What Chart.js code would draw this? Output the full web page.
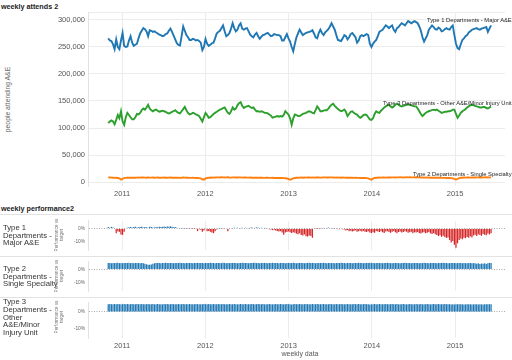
<!DOCTYPE html>
<html>
<head>
<meta charset="utf-8">
<script src="https://cdn.jsdelivr.net/npm/chart.js@4.4.1/dist/chart.umd.min.js"></script>
<style>
  body { margin: 0; width: 512px; height: 360px; position: relative; overflow: hidden; background: #fff;
         font-family: "Liberation Sans", Arial, sans-serif; color: #333; }
  canvas { position: absolute; left: 0; }
  .txt { position: absolute; white-space: nowrap; }
  .title { font-weight: bold; font-size: 7.2px; color: #222; }
  .lab { font-size: 5.8px; line-height: 6px; color: #222; }
  .rowlab { position: absolute; left: 3px; height: 41px; display: flex; align-items: center; font-size: 7.7px; line-height: 7.9px; color: #333; }
  .pvt { position: absolute; width: 41px; height: 10px; font-size: 4.7px; line-height: 5px; text-align: center; color: #777; transform: rotate(-90deg); }
  .hline { position: absolute; left: 0; width: 512px; height: 1px; background: #e2e2e2; }
</style>
</head>
<body>
<div class="txt title" style="left:1px;top:2px">weekly attends 2</div>
<div class="txt" style="left:-26px;top:96px;width:66px;text-align:center;font-size:6.8px;color:#666;transform:rotate(-90deg)">people attending A&amp;E</div>
<div class="hline" style="top:12px;left:88px;width:417px;background:#ececec"></div>
<canvas id="attends" width="512" height="200" style="top:0"></canvas>
<div class="txt lab" style="left:427px;top:17px">Type 1 Departments - Major A&amp;E</div>
<div class="txt lab" style="left:383px;top:100px">Type 3 Departments - Other A&amp;E/Minor Injury Unit</div>
<div class="txt lab" style="left:413px;top:171px">Type 2 Departments - Single Specialty</div>

<div class="txt title" style="left:1px;top:204px">weekly performance2</div>
<div class="hline" style="top:214px"></div>
<div class="hline" style="top:256px"></div>
<div class="hline" style="top:297px"></div>
<canvas id="perf1" width="512" height="41" style="top:215px"></canvas>
<canvas id="perf2" width="512" height="41" style="top:256px"></canvas>
<canvas id="perf3" width="512" height="60" style="top:297px"></canvas>
<div class="rowlab" style="top:215px"><div>Type 1<br>Departments -<br>Major A&amp;E</div></div>
<div class="rowlab" style="top:256px"><div>Type 2<br>Departments -<br>Single Specialty</div></div>
<div class="rowlab" style="top:297px"><div>Type 3<br>Departments -<br>Other<br>A&amp;E/Minor<br>Injury Unit</div></div>
<div class="pvt" style="left:38px;top:230px">Performance vs<br>target</div>
<div class="pvt" style="left:38px;top:271px">Performance vs<br>target</div>
<div class="pvt" style="left:38px;top:312px">Performance vs<br>target</div>
<div class="txt" style="left:270px;top:350px;width:60px;text-align:center;font-size:7px;color:#555">weekly data</div>

<script>
// weekly series, first week ending 31 Oct 2010
const firstWeekYear = 2010.833;
const yearTicks = [2011, 2012, 2013, 2014, 2015];
const attendTicks = [0, 50000, 100000, 150000, 200000, 250000, 300000];
const perfTicks = [-10, 0];

// attendances, thousands per week
const type1Attends = [
  266,262,261,255,246,264,250,246,262,276, 252,250,251,262,270,258,252,254,256,266,
  275,280,285,283,279,270,281,280,278,279, 277,275,273,272,270,271,274,275,280,284,
  278,271,264,257,254,253,270,288,280,272, 268,263,263,265,264,262,263,261,258,244,
  250,265,256,252,254,257,258,266,275,278, 280,285,290,279,270,272,276,284,294,285,
  279,282,290,294,284,282,284,285,279,273, 270,268,273,276,270,265,269,272,273,275,
  276,273,270,271,274,273,272,272,270,262, 262,268,274,266,260,250,242,256,268,275,
  282,277,272,274,276,277,278,279,281,275, 268,266,276,282,276,272,277,280,283,288,
  294,288,282,272,263,262,261,266,272,270, 264,268,274,276,272,268,258,262,270,272,
  270,272,274,272,256,250,256,260,263,270, 278,280,282,286,290,288,285,288,290,282,
  278,285,287,291,294,292,290,294,298,296, 294,296,298,296,294,288,280,268,260,266,
  272,282,286,290,287,283,282,286,284,279, 280,283,285,283,282,287,290,272,256,248,
  246,255,263,266,270,272,277,279,282,283, 284,285,283,282,284,285,286,287,278,284,
  290
];
const type3Attends = [
  109,112,114,112,107,115,124,118,131,112, 106,120,128,124,120,116,116,120,126,125,
  128,133,136,134,138,143,136,133,131,133, 134,132,130,131,132,131,130,128,127,128,
  130,131,133,130,128,127,131,135,139,133, 128,125,126,128,127,125,124,122,117,112,
  120,128,124,119,120,123,126,128,130,132, 134,135,137,138,133,128,126,131,138,134,
  136,142,146,148,141,137,139,140,141,139, 137,138,134,131,131,130,131,130,128,128,
  127,125,123,119,120,121,122,121,122,121, 124,131,128,125,118,106,118,125,124,122,
  122,124,126,127,128,130,131,130,128,127, 133,140,136,131,131,132,133,133,136,140,
  143,145,141,138,135,133,131,132,134,130, 122,126,130,131,128,126,125,121,119,121,
  124,125,124,120,116,115,118,126,131,129, 128,132,135,138,140,142,143,140,138,140,
  143,145,143,141,140,141,142,143,144,143, 142,141,140,140,136,131,126,122,125,128,
  130,131,132,133,134,133,134,132,130,128, 129,130,130,131,131,132,134,134,126,119,
  123,128,131,133,135,138,140,142,143,142, 141,140,139,138,138,139,139,137,136,138,
  140
];
const type2Attends = [
  8.6,8.4,8.2,8.0,7.6,7.8,7.4,6.8,4.6,6.2, 7.2,7.6,7.8,7.9,8.0,8.1,7.9,8.0,8.2,8.3,
  8.1,8.4,8.5,8.2,8.0,8.3,8.1,8.2,8.4,8.0, 8.1,8.3,8.0,7.9,8.1,8.2,8.0,7.8,8.1,8.2,
  8.0,8.1,7.9,7.8,8.0,7.7,8.0,8.2,8.1,7.9, 7.8,7.6,7.7,7.8,7.6,7.5,7.4,7.2,6.8,5.0,
  4.4,6.6,7.4,7.8,8.0,8.2,8.1,8.3,8.5,8.6, 8.4,8.8,8.6,8.3,8.5,8.7,8.4,8.2,8.5,8.6,
  8.3,8.4,8.6,8.5,8.2,8.3,8.4,8.1,8.2,8.3, 8.0,8.1,7.9,8.0,7.8,7.9,8.0,7.8,7.7,7.9,
  7.8,7.6,7.7,7.8,7.5,7.6,7.4,7.5,7.3,7.4, 7.2,7.0,6.6,5.6,4.2,5.2,6.8,7.4,7.8,8.0,
  8.1,8.2,8.0,8.3,8.2,8.4,8.3,8.1,8.4,8.2, 8.5,8.3,8.4,8.2,8.3,8.5,8.6,8.4,8.3,8.5,
  8.6,8.4,8.2,8.3,8.1,8.2,8.0,8.2,8.1,8.0, 7.9,8.0,7.8,7.9,7.7,7.8,7.6,7.7,7.5,7.4,
  7.6,7.4,7.2,6.8,5.4,4.4,6.2,7.4,7.8,8.0, 8.2,8.1,8.3,8.4,8.2,8.5,8.3,8.4,8.6,8.5,
  8.4,8.6,8.5,8.7,8.6,8.4,8.5,8.7,8.6,8.8, 8.6,8.5,8.7,8.4,8.6,8.5,8.3,8.4,8.2,8.3,
  8.1,8.2,8.0,8.1,7.9,8.0,7.8,7.9,7.7,7.8, 7.6,7.7,7.5,7.6,7.4,7.2,6.8,5.6,4.6,5.8,
  7.2,7.8,8.0,8.2,8.1,8.3,8.4,8.2,8.5,8.3, 8.4,8.6,8.5,8.3,8.4,8.6,8.5,8.7,8.4,8.6,
  8.5
];

// performance vs 95% target, percentage points
const type1Perf = [
  1.0,0.5,1.2,0.8,0.3,-3.5,-2.0,-2.5,-4.5,-4.8, -2.5,0.4,0.6,0.9,1.1,0.8,1.0,1.2,0.7,0.9,
  1.0,1.3,0.8,1.1,0.9,0.6,1.2,1.0,0.8,0.7, 1.1,0.9,1.3,1.0,1.2,1.4,1.1,1.5,1.3,1.6,
  1.2,0.9,1.0,0.6,0.3,0.2,0.1,-0.2,0.1,-0.1, 0.2,0.1,-0.2,-0.1,0.1,-0.3,-2.0,-0.5,-1.0,-2.5,
  -1.5,-0.3,-2.0,-1.8,-2.5,-3.0,-3.5,-2.0,-0.8,-0.3, 0.2,0.1,-0.2,0.3,-0.4,-2.0,0.3,0.4,0.2,0.5,
  0.3,0.6,0.4,0.2,0.5,0.3,0.6,0.4,0.2,0.5, 0.7,0.4,0.6,0.8,0.5,0.3,0.6,0.4,0.2,0.1,
  -0.4,-0.6,-0.8,-1.2,-1.0,-1.5,-1.8,-2.2,-2.0,-3.0, -4.6,-3.0,-2.6,-2.2,-2.8,-3.4,-2.8,-3.2,-3.8,-4.2,
  -3.6,-4.8,-5.2,-4.4,-5.8,-6.0,-5.2,-5.6,-6.9,-0.4, -0.2,-0.1,-0.3,0.1,-0.2,0.2,0.3,0.2,0.8,0.3,
  0.1,-0.2,-0.4,-0.3,-0.6,-0.5,-0.4,-0.6,-0.8,-1.5, -1.2,-2.0,-1.6,-2.2,-1.8,-1.4,-2.5,-2.0,-1.6,-2.2,
  -1.8,-2.4,-2.7,-2.0,-3.0,-3.4,-2.8,-3.2,-1.9,-2.3, -2.6,-2.0,-2.8,-3.4,-2.2,-2.0,-2.6,-3.2,-2.4,-1.8,
  -2.8,-3.5,-2.6,-2.2,-3.0,-2.6,-2.0,-2.4,-3.2,-2.8, -2.4,-3.6,-2.8,-3.0,-2.6,-3.4,-3.8,-3.0,-2.8,-3.6,
  -3.2,-2.6,-3.6,-4.0,-3.4,-4.2,-4.8,-5.6,-5.0,-6.2, -5.4,-6.4,-7.0,-6.6,-8.5,-10.4,-9.2,-12.0,-14.3,-11.0,
  -8.6,-7.4,-8.0,-6.8,-7.2,-6.4,-6.8,-5.8,-6.6,-5.2, -4.6,-5.6,-4.2,-4.8,-5.4,-4.0,-4.6,-5.0,-3.8,-4.4,
  -3.6
];
const type2Perf = [
  4.7,4.8,4.6,4.8,4.7,4.8,4.9,4.7,4.8,4.6, 4.8,4.7,4.8,4.9,4.7,4.8,4.6,4.8,4.7,4.8,
  4.6,4.7,4.5,4.2,3.8,3.5,3.4,3.7,4.2,4.6, 4.8,4.7,4.8,4.6,4.8,4.7,4.9,4.8,4.7,4.8,
  4.8,4.6,4.8,4.7,4.8,4.9,4.7,4.8,4.6,4.8, 4.7,4.8,4.8,4.6,4.7,4.8,4.9,4.7,4.8,4.7,
  4.6,4.8,4.7,4.8,4.9,4.7,4.8,4.6,4.8,4.7, 4.8,4.7,4.9,4.8,4.6,4.8,4.7,4.8,4.8,4.7,
  4.8,4.6,4.7,4.8,4.9,4.7,4.8,4.7,4.6,4.8, 4.7,4.8,4.9,4.7,4.8,4.6,4.8,4.7,4.8,4.8,
  4.6,4.7,4.8,4.9,4.7,4.8,4.7,4.6,4.8,4.7, 4.8,4.6,4.7,4.8,4.8,4.7,4.9,4.8,4.6,4.7,
  4.8,4.7,4.8,4.6,4.7,4.8,4.9,4.7,4.8,4.7, 4.6,4.8,4.7,4.8,4.7,4.9,4.8,4.6,4.7,4.8,
  4.7,4.8,4.6,4.8,4.7,4.8,4.9,4.7,4.8,4.6, 4.8,4.7,4.8,4.6,4.7,4.8,4.7,4.9,4.8,4.7,
  4.6,4.8,4.7,4.8,4.9,4.7,4.8,4.6,4.7,4.8, 4.7,4.8,4.6,4.8,4.7,4.9,4.8,4.7,4.6,4.8,
  4.7,4.8,4.7,4.6,4.8,4.7,4.9,4.8,4.7,4.8, 4.6,4.7,4.8,4.7,4.8,4.6,4.8,4.7,4.9,4.8,
  4.7,4.6,4.8,4.7,4.8,4.7,4.6,4.8,4.7,4.8, 4.9,4.7,4.8,4.6,4.7,4.8,4.7,4.8,4.6,4.7,
  4.8,4.7,4.6,4.8,4.7,4.6,4.8,4.7,4.6,4.7, 4.5,4.3,4.6,4.0,4.4,4.2,4.6,4.1,4.5,4.9,
  4.8
];
const type3Perf = [
  4.8,4.9,4.8,4.7,4.9,4.8,4.9,4.8,4.7,4.8, 4.9,4.8,4.9,4.8,4.8,4.9,4.7,4.8,4.9,4.8,
  4.8,4.9,4.8,4.7,4.8,4.9,4.8,4.8,4.9,4.7, 4.8,4.9,4.8,4.8,4.7,4.9,4.8,4.9,4.8,4.8,
  4.9,4.8,4.7,4.8,4.9,4.8,4.8,4.9,4.7,4.8, 4.8,4.9,4.8,4.7,4.8,4.9,4.8,4.8,4.7,4.8,
  4.9,4.8,4.8,4.9,4.7,4.8,4.9,4.8,4.8,4.9, 4.7,4.8,4.9,4.8,4.8,4.7,4.9,4.8,4.8,4.9,
  4.8,4.7,4.8,4.9,4.8,4.8,4.9,4.7,4.8,4.8, 4.9,4.8,4.7,4.8,4.9,4.8,4.8,4.9,4.7,4.8,
  4.8,4.9,4.8,4.7,4.8,4.9,4.8,4.8,4.9,4.7, 4.8,4.8,4.9,4.8,4.7,4.6,4.8,4.9,4.8,4.8,
  4.9,4.7,4.8,4.8,4.9,4.8,4.7,4.8,4.9,4.8, 4.8,4.9,4.7,4.8,4.8,4.9,4.8,4.7,4.8,4.9,
  4.8,4.8,4.7,4.9,4.8,4.8,4.9,4.7,4.8,4.8, 4.9,4.8,4.7,4.8,4.9,4.8,4.8,4.9,4.7,4.8,
  4.8,4.9,4.8,4.7,4.6,4.7,4.8,4.9,4.8,4.8, 4.9,4.7,4.8,4.8,4.9,4.8,4.7,4.8,4.9,4.8,
  4.8,4.9,4.7,4.8,4.8,4.9,4.8,4.7,4.8,4.9, 4.8,4.8,4.7,4.9,4.8,4.8,4.9,4.7,4.8,4.8,
  4.9,4.8,4.7,4.8,4.9,4.8,4.8,4.9,4.7,4.8, 4.8,4.9,4.8,4.7,4.8,4.6,4.7,4.6,4.7,4.8,
  4.8,4.7,4.8,4.6,4.7,4.8,4.7,4.8,4.6,4.7, 4.8,4.7,4.6,4.8,4.7,4.6,4.7,4.8,4.7,4.8,
  4.8
];

const blue = '#1f77b4', orange = '#ff7f0e', green = '#2ca02c', red = '#d62728';
const xMin = 2010.59, xMax = 2015.6;
const weekX = type1Attends.map((_, i) => firstWeekYear + i * 7 / 365.25);
const pts = (arr, k) => arr.map((v, i) => ({ x: weekX[i], y: v * k }));

const tickFont = { family: '"Liberation Sans", Arial, sans-serif', size: 7.5 };
const smallFont = { family: '"Liberation Sans", Arial, sans-serif', size: 4.8 };

function xScale(showLabels, height) {
  return {
    type: 'linear', min: xMin, max: xMax, offset: false,
    afterBuildTicks: s => { s.ticks = yearTicks.map(v => ({ value: v })); },
    afterFit: s => { s.height = height; },
    ticks: { display: showLabels, callback: v => String(v), font: tickFont, color: '#555', padding: 3, maxRotation: 0, autoSkip: false },
    grid: { color: '#ececec', drawTicks: false, offset: false },
    border: { display: false }
  };
}

new Chart(document.getElementById('attends'), {
  type: 'line',
  data: {
    datasets: [
      { data: pts(type1Attends, 1000), borderColor: blue },
      { data: pts(type3Attends, 1000), borderColor: green },
      { data: pts(type2Attends, 1000), borderColor: orange }
    ]
  },
  options: {
    responsive: false, animation: false,
    layout: { padding: { top: 12, right: 7 } },
    plugins: { legend: { display: false }, tooltip: { enabled: false } },
    elements: { point: { radius: 0 }, line: { borderWidth: 1.9, tension: 0 } },
    scales: {
      x: xScale(true, 14),
      y: {
        min: -7400, max: 314800,
        afterFit: s => { s.width = 88; },
        afterBuildTicks: s => { s.ticks = attendTicks.map(v => ({ value: v })); },
        ticks: { callback: v => v.toLocaleString('en-US'), font: tickFont, color: '#555', padding: 3 },
        grid: { color: '#ececec', drawTicks: false },
        border: { color: '#e2e2e2' }
      }
    }
  }
});

function perfChart(id, values, colors, showX) {
  new Chart(document.getElementById(id), {
    type: 'bar',
    data: {
      datasets: [{
        data: values.map((v, i) => ({ x: weekX[i], y: v })),
        backgroundColor: colors,
        barPercentage: 0.78, categoryPercentage: 1
      }]
    },
    options: {
      responsive: false, animation: false,
      layout: { padding: { right: 7 } },
      plugins: { legend: { display: false }, tooltip: { enabled: false } },
      scales: {
        x: xScale(showX, showX ? 19 : 0),
        y: {
          min: -16, max: 5.6,
          afterFit: s => { s.width = 88; },
          afterBuildTicks: s => { s.ticks = perfTicks.map(v => ({ value: v })); },
          ticks: { callback: v => v + '%', font: smallFont, color: '#666', padding: 3 },
          grid: { color: c => (c.tick && c.tick.value === 0) ? '#aaa' : 'rgba(0,0,0,0)', drawTicks: false },
          border: { color: '#e2e2e2', dash: [1, 1.5] }
        }
      }
    }
  });
}

perfChart('perf1', type1Perf, type1Perf.map(v => v < 0 ? red : blue), false);
perfChart('perf2', type2Perf, blue, false);
perfChart('perf3', type3Perf, blue, true);
</script>
</body>
</html>
